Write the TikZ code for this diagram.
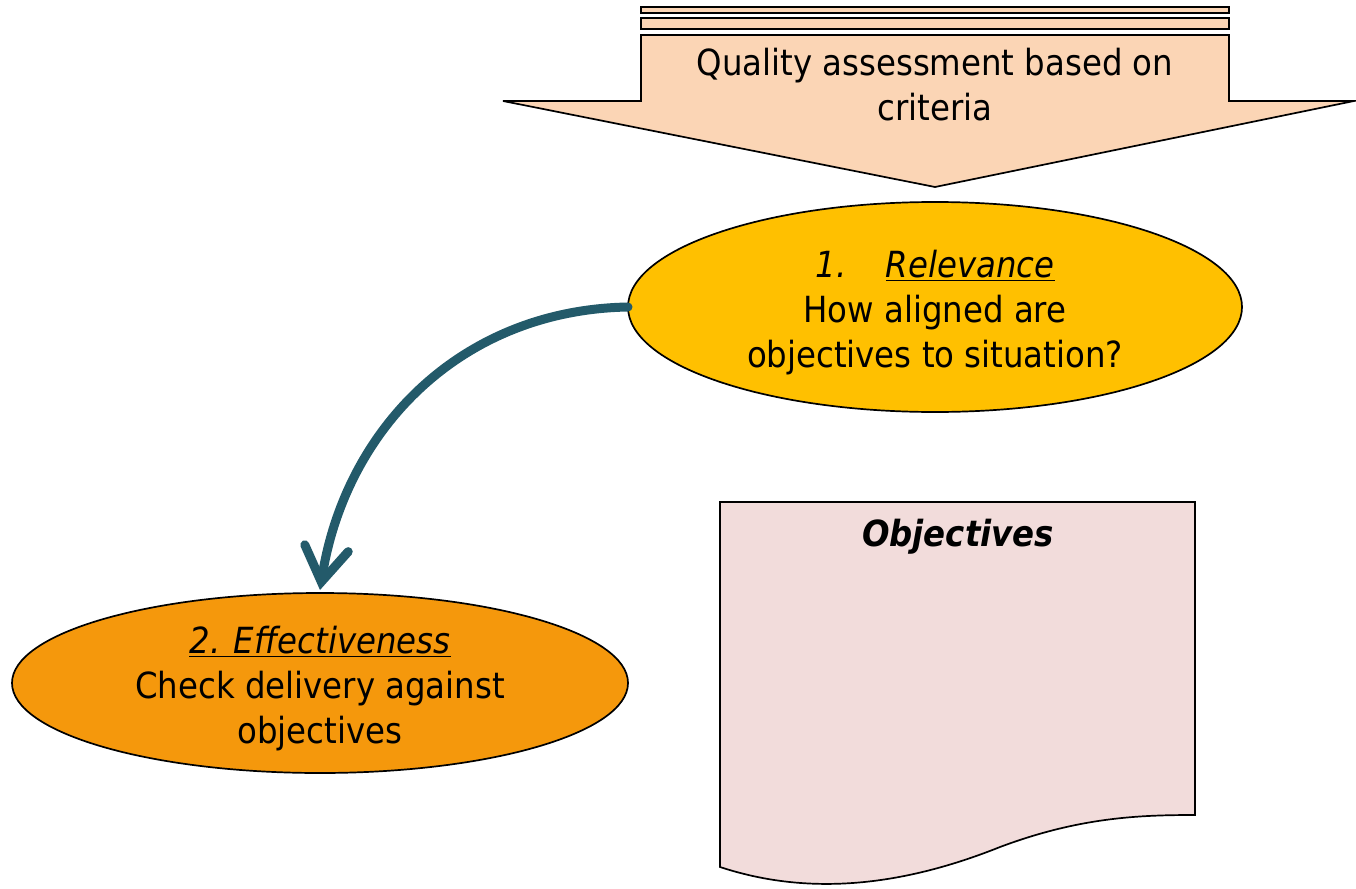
\documentclass[tikz,border=0pt]{standalone}
\usepackage{fontspec}
\setmainfont{DejaVu Sans Condensed}
\usetikzlibrary{arrows.meta,shapes.geometric}
\definecolor{peach}{RGB}{251,213,181}
\definecolor{gold}{RGB}{255,192,0}
\definecolor{orng}{RGB}{245,152,12}
\definecolor{pinkdoc}{RGB}{242,220,219}
\definecolor{teal}{RGB}{35,90,106}
\tikzset{
  outl/.style={draw=black,line width=1.7pt},
  txt/.style={align=center,font=\fontsize{36}{45}\selectfont,inner sep=0pt},
}
\begin{document}
\begin{tikzpicture}[x=1pt,y=-1pt]
\useasboundingbox (0,0) rectangle (1356,888);
% top block arrow
\path[outl,fill=peach] (641,7) rectangle (1229,13);
\path[outl,fill=peach] (641,18) rectangle (1229,29);
\path[outl,fill=peach] (641,35) -- (1229,35) -- (1229,101) -- (1354,101) -- (935,187) -- (503,101) -- (641,101) -- cycle;
\node[txt] (qa) at (935,85) {Quality assessment based on\\criteria};
% relevance ellipse
\path[outl,fill=gold] (935,307) ellipse [x radius=307, y radius=105];
\coordinate (relw) at (628,307);
\node[txt] (rel) at (935,313) {\textit{1.\hspace{1.1em}\underline{Relevance}}\\How aligned are\\objectives to situation?};
% effectiveness ellipse
\path[outl,fill=orng] (320,683) ellipse [x radius=308, y radius=90];
\coordinate (efn) at (320,590);
\node[txt] (eff) at (320,689) {\textit{\underline{2. Effectiveness}}\\Check delivery against\\objectives};
% document
\path[outl,fill=pinkdoc] (720,502) -- (1195,502) -- (1195,815)
  .. controls (1140,815) and (1080,817) .. (1000,847)
  .. controls (880,895) and (790,890) .. (720,867) -- cycle;
\node[txt,font=\fontsize{36}{45}\selectfont\bfseries\itshape] (obj) at (958,537) {Objectives};
% connector
\draw[teal,line width=9pt,line cap=round,-{Straight Barb[length=34pt,width=44pt,line cap=round]}] (relw) .. controls (460,310) and (345,430) .. (efn);
\end{tikzpicture}
\end{document}
